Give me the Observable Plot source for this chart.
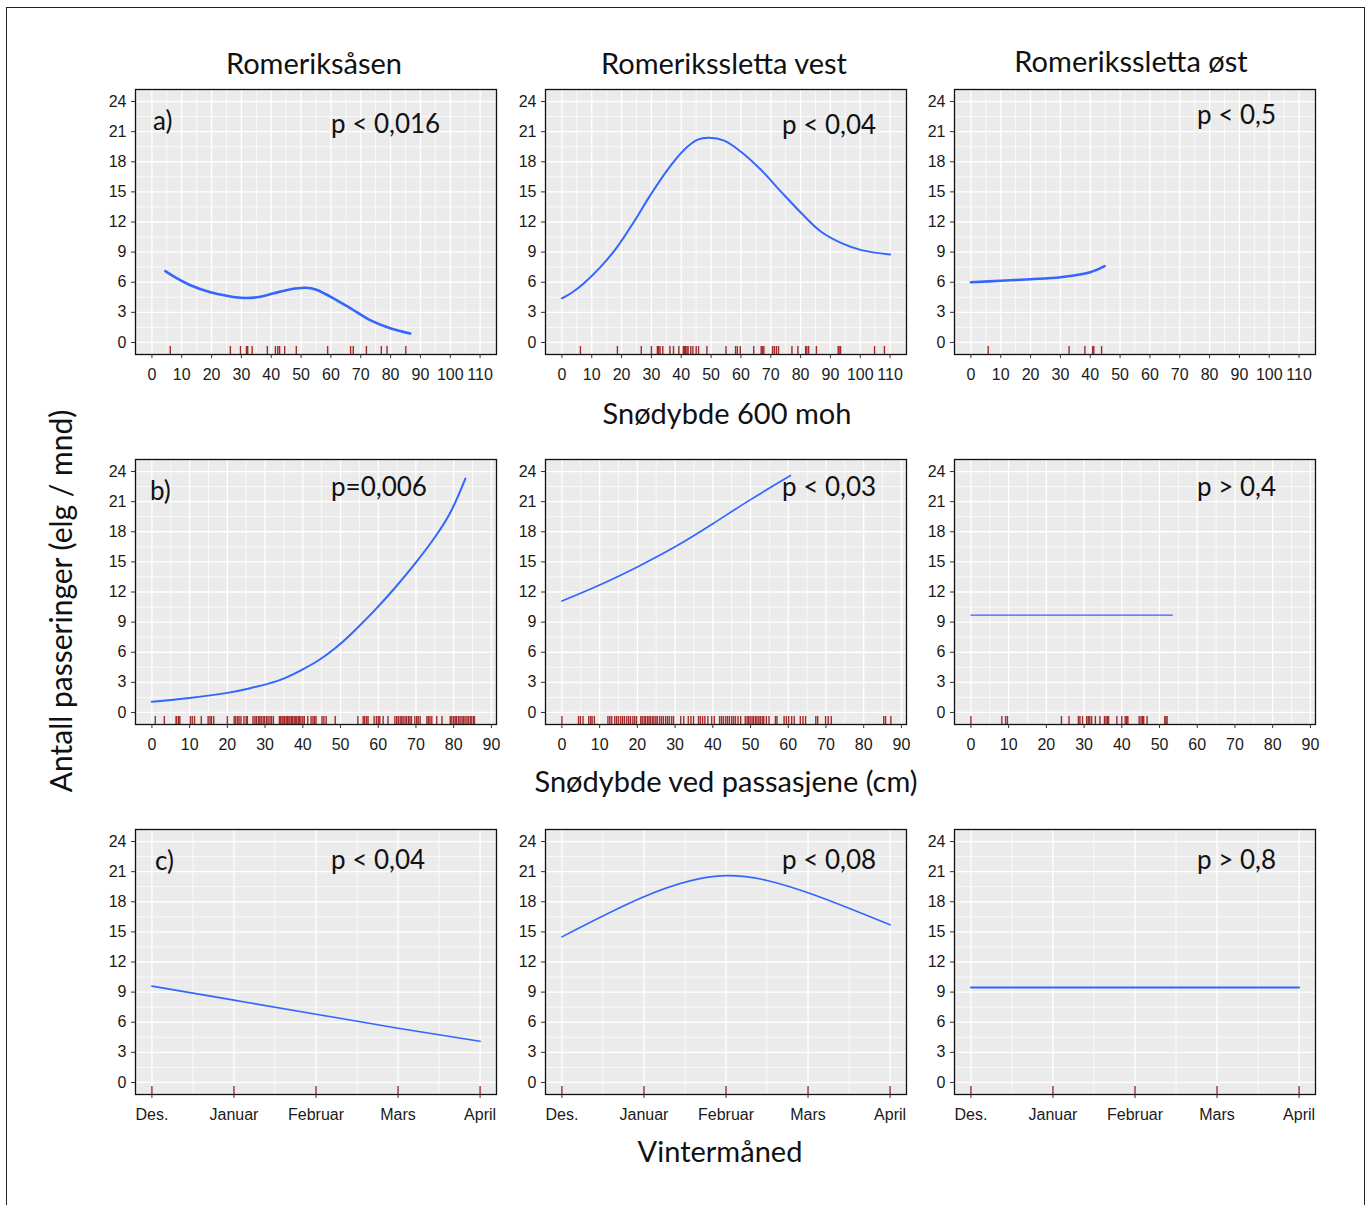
<!DOCTYPE html>
<html>
<head>
<meta charset="utf-8">
<script src="https://cdn.jsdelivr.net/npm/d3@7"></script>
<script src="https://cdn.jsdelivr.net/npm/@observablehq/plot@0.6"></script>
<style>
  body { margin: 0; background: #fff; }
  #wrap { position: relative; width: 1371px; height: 1205px; overflow: hidden; background: #fff; }
  .frame { position: absolute; left: 6px; top: 7px; width: 1359px; height: 1300px; border: 1.5px solid #222; box-sizing: border-box; }
  .panel { position: absolute; }
  #txt { position: absolute; left: 0; top: 0; pointer-events: none; }
</style>
</head>
<body>
<div id="wrap"><div class="frame"></div></div>
<script>
// ---------- data ----------
const columnTitles = ["Romeriksåsen", "Romerikssletta vest", "Romerikssletta øst"];
const rowAxisTitles = ["Snødybde 600 moh", "Snødybde ved passasjene (cm)", "Vintermåned"];
const yAxisTitle = "Antall passeringer (elg / mnd)";
const panelLetters = ["a)", "b)", "c)"];
const pLabels = [
  ["p < 0,016", "p < 0,04", "p < 0,5"],
  ["p=0,006", "p < 0,03", "p > 0,4"],
  ["p < 0,04", "p < 0,08", "p > 0,8"]
];

const snow600Ticks = [0, 10, 20, 30, 40, 50, 60, 70, 80, 90, 100, 110];
const snowPassTicks = [0, 10, 20, 30, 40, 50, 60, 70, 80, 90];
const monthLabels = ["Des.", "Januar", "Februar", "Mars", "April"];
const monthIdx = [0, 1, 2, 3, 4];
const countTicks = [0, 3, 6, 9, 12, 15, 18, 21, 24];

// row 1: snow depth at 600 m
const aX = [4.5, 8, 12.9, 19.6, 25, 29.7, 35.2, 40.9, 46.5, 51.5, 54.9, 59.9, 66.6, 73.3, 80.1, 86.6];
const aY = [7.1, 6.45, 5.7, 5.0, 4.65, 4.45, 4.5, 4.9, 5.3, 5.45, 5.28, 4.55, 3.4, 2.2, 1.4, 0.9];
const bX = [0, 3.4, 7.3, 12.9, 18.5, 24.1, 29.7, 35.4, 41.0, 45.5, 49.4, 54.4, 60.0, 66.7, 73.5, 80.2, 87.0, 93.7, 100.4, 110];
const bY = [4.4, 4.98, 5.88, 7.5, 9.5, 12.0, 14.7, 17.2, 19.2, 20.2, 20.4, 20.1, 19.0, 17.2, 15.0, 12.9, 11.0, 9.9, 9.2, 8.77];
const cX = [0, 10, 20, 30, 40, 44.8];
const cY = [6.0, 6.15, 6.3, 6.5, 7.0, 7.6];

// row 2: snow depth at crossings
const dX = [0, 10, 20, 25.3, 30.7, 35.1, 39.5, 44, 48.4, 52.9, 59.1, 64.4, 69.7, 75.1, 79.5, 83.1];
const dY = [1.06, 1.45, 1.95, 2.35, 2.85, 3.4, 4.2, 5.15, 6.35, 7.85, 10.2, 12.4, 14.8, 17.5, 20.2, 23.3];
const eX = [0, 10, 20, 30, 40, 50, 60.6];
const eY = [11.1, 12.7, 14.5, 16.5, 18.8, 21.2, 23.6];
const fX = [0, 53.4];
const fY = [9.7, 9.7];

// row 3: winter month
const gY = [9.6, 8.2, 6.8, 5.4, 4.1];
const hY = [14.5, 18.5, 20.6, 18.9, 15.7];
const iY = [9.45, 9.45, 9.45, 9.45, 9.45];

// rug values
const rugA = [6.15, 26.3, 29.7, 31.7, 32.1, 33.6, 38.7, 41.4, 42.2, 42.8, 44.5, 48.4, 58.9, 66.6, 67.5, 71.9, 76.9, 78.8, 85.1];
const rugB = [6.2, 18.6, 26.6, 30.0, 32.0, 32.4, 32.9, 33.8, 36.2, 37.4, 39.2, 40.7, 41.1, 41.4, 41.9, 42.3, 43.2, 43.9, 45.0, 45.8, 48.6, 55.0, 58.2, 58.8, 59.8, 64.3, 66.8, 67.2, 67.7, 70.6, 71.2, 71.9, 72.6, 77.1, 79.1, 81.7, 82.1, 82.7, 85.3, 92.6, 92.9, 93.4, 104.8, 108.1];
const rugC = [5.8, 32.9, 38.2, 40.8, 41.2, 43.8];
const rugD = [0.9, 3.3, 6.4, 6.6, 7.1, 7.4, 10.2, 10.7, 11.3, 13.1, 14.9, 15.4, 15.8, 16.4, 20.0, 21.8, 22.2, 22.7, 23.1, 23.6, 24.4, 25.0, 25.3,
  26.8, 27.3, 27.7, 28.2, 28.6, 29.0, 29.5, 29.9, 30.4, 30.8, 31.3, 31.7, 32.2,
  33.8, 34.1, 34.5, 34.8, 35.2, 35.6, 35.9, 36.3, 36.6, 37.0, 37.3, 37.7, 38.0, 38.4, 38.8,
  39.1, 39.5, 40.0, 40.4, 41.3, 42.2, 42.7, 43.1, 43.5, 45.1, 45.6, 46.2, 48.6, 54.6, 56.0, 56.4, 56.9, 57.3,
  58.9, 59.5, 60.0, 60.4, 61.3, 62.6, 64.4, 64.9, 65.3, 65.8, 66.2, 66.6, 67.1, 67.5, 68.0, 68.4, 68.8,
  69.7, 70.2, 70.6, 71.1, 72.9, 73.3, 73.7, 74.2, 75.5, 76.9, 79.1, 79.5, 80.0, 80.4, 80.8, 81.3, 81.7, 82.2, 82.6, 83.0,
  83.5, 83.9, 84.4, 84.8, 85.3, 85.5];
const rugE = [0, 4.4, 4.9, 5.6, 7.1, 7.6, 8.0, 8.6, 12.2, 12.7, 13.2, 14.0, 14.5, 15.0, 15.6, 16.1, 16.6, 17.2, 17.7, 18.2, 18.8, 19.3, 19.8,
  20.9, 21.3, 21.8, 22.2, 22.7, 23.1, 23.5, 24.0, 24.4, 24.9, 25.3, 25.9, 26.4, 26.9, 27.5, 28.0, 28.5, 29.1, 29.6,
  31.5, 32.3, 33.5, 34.2, 34.9, 36.2, 36.7, 37.3, 37.9, 38.7, 39.7, 40.4,
  41.8, 42.3, 42.8, 43.4, 43.9, 44.4, 45.0, 45.5, 46.0, 46.7, 47.4,
  48.6, 49.1, 49.5, 49.9, 50.4, 50.8, 51.3, 51.7, 52.2, 52.6, 53.1, 53.5, 54.2, 54.9,
  56.6, 57.0, 58.9, 59.5, 60.1, 60.9, 61.6, 63.2, 63.9, 64.6, 67.3, 67.8, 69.9, 70.6, 71.4, 85.3, 85.8, 87.2];
const rugF = [0, 8.2, 9.2, 9.7, 24.0, 26.0, 28.5, 28.9, 29.6, 30.7, 31.1, 31.5, 32.0, 33.0, 34.2, 35.4, 35.8, 36.2, 36.5, 38.7, 40.0, 40.9, 41.3, 41.6, 44.6, 45.1, 45.5, 45.8, 46.7, 51.4, 51.7, 52.0];
const rugMonths = [0, 1, 2, 3, 4];

// ---------- layout ----------
const PW = 361, PH = 265;
const ML = 46, MR = 6, MT = 6, MB = 40;
const lefts = [135, 545, 954];
const tops = [89, 459, 829];
const yDomain = [-1.2, 25.2];

function mids(ticks) {
  const out = [];
  for (let i = 0; i < ticks.length - 1; i++) out.push((ticks[i] + ticks[i + 1]) / 2);
  return out;
}

const rows = [
  { xDomain: [-5.5, 115.5], ticks: snow600Ticks, fmt: d => String(d) },
  { xDomain: [-4.35, 91.35], ticks: snowPassTicks, fmt: d => String(d) },
  { xDomain: [-0.2, 4.2], ticks: monthIdx, fmt: d => monthLabels[d] }
];

const panels = [
  [{ x: aX, y: aY, rug: rugA, sw: 2.6, curve: "catmull-rom" }, { x: bX, y: bY, rug: rugB, sw: 2, curve: "catmull-rom" }, { x: cX, y: cY, rug: rugC, sw: 2.6, curve: "catmull-rom" }],
  [{ x: dX, y: dY, rug: rugD, sw: 2, curve: "natural" }, { x: eX, y: eY, rug: rugE, sw: 1.7, curve: "natural" }, { x: fX, y: fY, rug: rugF, sw: 1.2, curve: "linear" }],
  [{ x: monthIdx, y: gY, rug: rugMonths, sw: 1.6, curve: "natural" }, { x: monthIdx, y: hY, rug: rugMonths, sw: 1.6, curve: "natural" }, { x: monthIdx, y: iY, rug: rugMonths, sw: 2, curve: "linear" }]
];

const wrap = document.getElementById("wrap");

rows.forEach((row, r) => {
  panels[r].forEach((p, c) => {
    const chart = Plot.plot({
      width: ML + PW + MR,
      height: MT + PH + MB,
      marginLeft: ML, marginRight: MR, marginTop: MT, marginBottom: MB,
      style: { fontFamily: "'Liberation Sans', Arial, sans-serif", fontSize: "16px", color: "#1a1a1a", background: "transparent", overflow: "visible" },
      x: { domain: row.xDomain, axis: null },
      y: { domain: yDomain, axis: null },
      marks: [
        Plot.frame({ fill: "#EBEBEB" }),
        Plot.ruleX(mids(row.ticks), { stroke: "#fff", strokeWidth: 0.7 }),
        Plot.ruleY(mids(countTicks), { stroke: "#fff", strokeWidth: 0.7 }),
        Plot.ruleX(row.ticks, { stroke: "#fff", strokeWidth: 1.3 }),
        Plot.ruleY(countTicks, { stroke: "#fff", strokeWidth: 1.3 }),
        Plot.ruleX(p.rug, { stroke: "#A52A2A", strokeWidth: 1.4, insetTop: PH - 8 }),
        Plot.line(p.x, { x: p.x, y: p.y, stroke: "#3366FF", strokeWidth: p.sw, curve: p.curve }),
        Plot.frame({ stroke: "#111", strokeWidth: 1.3 }),
        Plot.axisX({ ticks: row.ticks, tickFormat: row.fmt, tickSize: 4, tickPadding: 10, stroke: "#333" }),
        Plot.axisY({ ticks: countTicks, tickSize: 4, tickPadding: 5, stroke: "#333" })
      ]
    });
    chart.classList.add("panel");
    chart.style.left = (lefts[c] - ML) + "px";
    chart.style.top = (tops[r] - MT) + "px";
    wrap.appendChild(chart);
  });
});

// ---------- text overlay ----------
const svg = d3.select(wrap).append("svg").attr("id", "txt").attr("width", 1371).attr("height", 1205)
  .style("font-family", "Lato, 'Open Sans', sans-serif").style("fill", "#111");

const titleX = [314, 724, 1131];
const titleBase = [74, 74, 72];
columnTitles.forEach((t, i) => {
  svg.append("text").attr("x", titleX[i]).attr("y", titleBase[i]).attr("text-anchor", "middle")
    .attr("font-size", 29).text(t);
});
const rowTitleX = [727, 726, 720];
const rowTitleBase = [424, 792, 1162];
rowAxisTitles.forEach((t, i) => {
  svg.append("text").attr("x", rowTitleX[i]).attr("y", rowTitleBase[i]).attr("text-anchor", "middle")
    .attr("font-size", 29).text(t);
});
svg.append("text").attr("transform", "translate(72,601) rotate(-90)").attr("text-anchor", "middle")
  .attr("font-size", 30).text(yAxisTitle);

const letterX = [153, 150, 155];
const letterBase = [130, 500, 870];
panelLetters.forEach((t, i) => {
  svg.append("text").attr("x", letterX[i]).attr("y", letterBase[i]).attr("font-size", 26).text(t);
});
const pX = [331, 782, 1197];
const pBase = [[133, 134, 124], [496, 496, 496], [869, 869, 869]];
pLabels.forEach((row, r) => row.forEach((t, c) => {
  svg.append("text").attr("x", pX[c]).attr("y", pBase[r][c]).attr("font-size", 26).text(t);
}));
</script>
</body>
</html>
